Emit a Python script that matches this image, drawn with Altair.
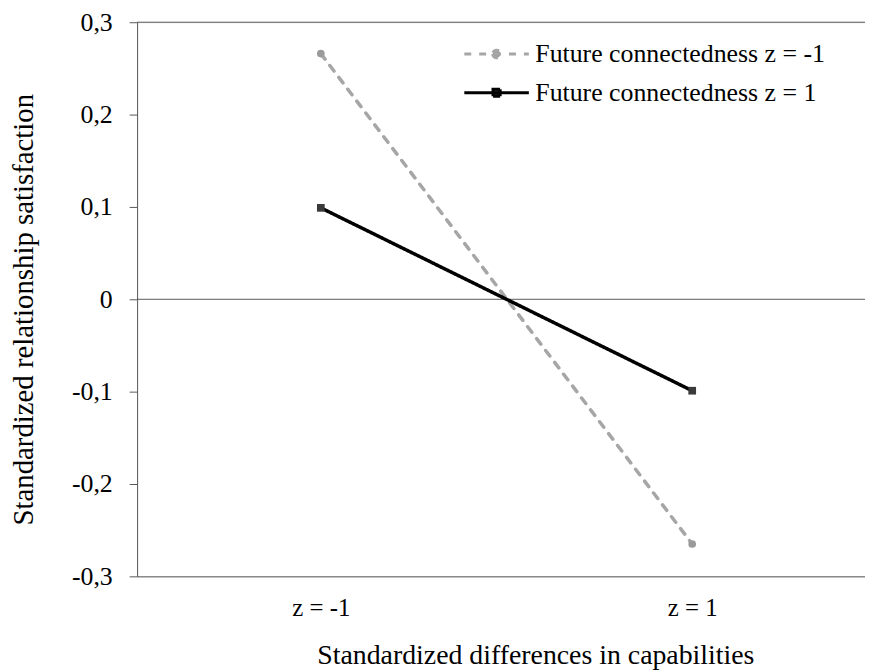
import altair as alt
import pandas as pd

# ---- data ----
x_labels = ["z = -1", "z = 1"]
x_values = [-1, 1]
series_names = ["Future connectedness z = -1", "Future connectedness z = 1"]
low_conn_values = [0.266, -0.265]
high_conn_values = [0.099, -0.099]
y_ticks = [-0.3, -0.2, -0.1, 0, 0.1, 0.2, 0.3]

rows = []
for s, vals in zip(series_names, [low_conn_values, high_conn_values]):
    for xv, v in zip(x_values, vals):
        rows.append({"series": s, "x": xv, "y": v})
df = pd.DataFrame(rows)

FONT = "Liberation Serif"
AXIS_COLOR = "#595959"
GRAY_LINE = "#a6a6a6"
GRAY_PT = "#9a9a9a"
DARK_PT = "#3a3a3a"

x_label_expr = "datum.value < 0 ? '%s' : '%s'" % (x_labels[0], x_labels[1])
y_label_expr = ("abs(datum.value) < 1e-9 ? '0' : (datum.value < 0 ? '-' : '') + '0,' + "
                "round(abs(datum.value) * 10)")

x_scale = alt.Scale(domain=[-1.9893, 1.9305], nice=False, zero=False)
y_scale = alt.Scale(domain=[-0.3, 0.3], nice=False)

x_axis = alt.Axis(values=x_values, labelExpr=x_label_expr, ticks=False, tickSize=0,
                  labelPadding=19, labelFontSize=25, labelFont=FONT, labelColor="black",
                  domainColor=AXIS_COLOR, domainWidth=1, grid=False,
                  title="Standardized differences in capabilities", titleFont=FONT,
                  titleFontSize=28, titleFontWeight="normal", titleColor="black",
                  titleX=401, titleY=88, titleAlign="center", titleBaseline="alphabetic",
                  labelFlush=False)
y_axis = alt.Axis(values=y_ticks, labelExpr=y_label_expr, tickSize=8, tickColor=AXIS_COLOR,
                  labelPadding=17, labelFontSize=26, labelFont=FONT, labelColor="black",
                  domainColor=AXIS_COLOR, domainWidth=1, grid=False,
                  title="Standardized relationship satisfaction", titleFont=FONT,
                  titleFontSize=29, titleFontWeight="normal", titleColor="black",
                  titleX=-114, titleY=289, titleAngle=-90, titleAlign="center",
                  titleBaseline="middle")

CIRCLE_PATH = ("M-3.25,0L3.25,0M-0.38,0A0.38,0.38 0 1,0 0.38,0"
               "A0.38,0.38 0 1,0 -0.38,0Z")
SQUARE_PATH = "M-3.25,0L3.25,0M-0.35,-0.35L0.35,-0.35L0.35,0.35L-0.35,0.35Z"
test_expr = "datum.value == '%s'" % series_names[0]

legend = alt.Legend(
    orient="none", legendX=349, legendY=19, title=None,
    labelFont=FONT, labelFontSize=26, labelColor="black", labelLimit=600,
    symbolSize=400, symbolStrokeWidth=3.2, labelOffset=26, rowPadding=13, padding=0,
    symbolType={"expr": "%s ? '%s' : '%s'" % (test_expr, CIRCLE_PATH, SQUARE_PATH)},
    symbolFillColor={"expr": "%s ? '%s' : '%s'" % (test_expr, GRAY_PT, DARK_PT)},
)

color = alt.Color("series:N", scale=alt.Scale(domain=series_names, range=[GRAY_LINE, "black"]),
                  legend=legend)
dash = alt.StrokeDash("series:N", scale=alt.Scale(domain=series_names, range=[[7, 8], [1, 0]]),
                      legend=legend)

base = alt.Chart(df)
x_enc = alt.X("x:Q", scale=x_scale, axis=x_axis)
y_enc = alt.Y("y:Q", scale=y_scale, axis=y_axis)

zero_rule = alt.Chart(pd.DataFrame({"y": [0]})).mark_rule(color=AXIS_COLOR, strokeWidth=1).encode(
    y=alt.Y("y:Q", scale=y_scale, axis=y_axis))
top_rule = alt.Chart(pd.DataFrame({"y": [y_ticks[-1]]})).mark_rule(color=AXIS_COLOR, strokeWidth=1).encode(
    y=alt.Y("y:Q", scale=y_scale, axis=y_axis))

lines = base.mark_line(strokeWidth=3.5, strokeCap="round").encode(
    x=x_enc, y=y_enc, color=color, strokeDash=dash)

pts_low = base.transform_filter(alt.datum.series == series_names[0]).mark_point(
    shape="circle", filled=True, size=60, color=GRAY_PT, opacity=1).encode(x=x_enc, y=y_enc)
pts_high = base.transform_filter(alt.datum.series == series_names[1]).mark_point(
    shape="square", filled=True, size=60, color=DARK_PT, opacity=1).encode(x=x_enc, y=y_enc)

chart = alt.layer(zero_rule, top_rule, lines, pts_low, pts_high).properties(
    width=733, height=558,
    padding={"left": 130, "top": 12, "right": 0, "bottom": 94},
    autosize=alt.AutoSizeParams(type="none"),
).configure_view(stroke=None).configure(background="white")

chart.save("out.html", embed_options={"renderer": "svg", "actions": False})
